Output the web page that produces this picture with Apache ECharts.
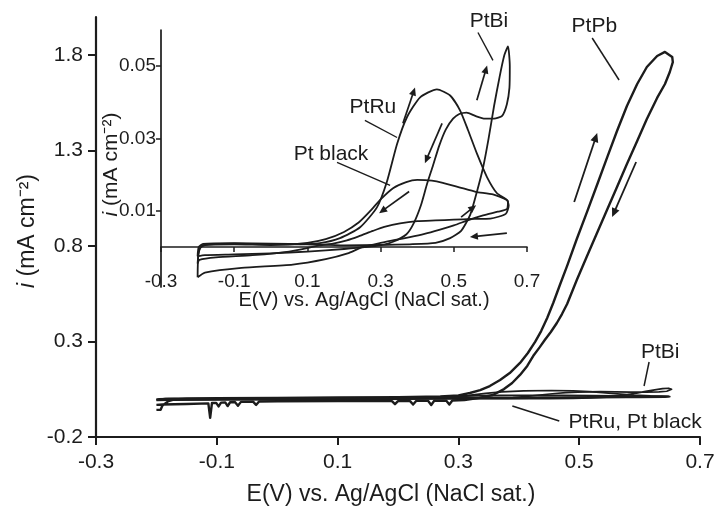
<!DOCTYPE html>
<html>
<head>
<meta charset="utf-8">
<script src="https://cdn.jsdelivr.net/npm/echarts@6/dist/echarts.min.js"></script>
<style>
  html, body { margin: 0; padding: 0; background: #fff; }
  #chart { width: 719px; height: 508px; }
</style>
</head>
<body>
<div id="chart"></div>
<script>
// Cyclic voltammograms: E (V vs. Ag/AgCl) against current density i (mA cm^-2)

// Axis ticks
const mainXTicks = [-0.3, -0.1, 0.1, 0.3, 0.5, 0.7];
const mainYTicks = [-0.2, 0.3, 0.8, 1.3, 1.8];
const insetXTicks = [-0.3, -0.1, 0.1, 0.3, 0.5, 0.7];
const insetYTicks = [0.01, 0.03, 0.05];

// PtPb: anodic sweep then cathodic sweep
const ptPbForward = [
  [-0.2, -0.058], [-0.193, -0.057], [-0.19, -0.035], [-0.18, -0.012], [-0.17, -0.003],
  [-0.15, 0.0], [-0.1, 0.003], [0.0, 0.005], [0.1, 0.007], [0.2, 0.009], [0.27, 0.012],
  [0.3, 0.018], [0.319, 0.0305], [0.336, 0.046], [0.352, 0.067], [0.369, 0.099],
  [0.385, 0.135], [0.402, 0.188], [0.415, 0.24], [0.427, 0.298], [0.437, 0.355],
  [0.447, 0.423], [0.457, 0.502], [0.468, 0.596], [0.48, 0.696], [0.496, 0.837],
  [0.513, 0.979], [0.5295, 1.12], [0.546, 1.262], [0.5626, 1.403], [0.579, 1.534],
  [0.596, 1.649], [0.612, 1.738], [0.629, 1.796], [0.642, 1.817], [0.654, 1.791]
];
const ptPbReverse = [
  [0.655, 1.764], [0.650, 1.712], [0.642, 1.649], [0.629, 1.576], [0.612, 1.466],
  [0.596, 1.351], [0.579, 1.23], [0.5626, 1.11], [0.546, 0.989], [0.5295, 0.869],
  [0.513, 0.748], [0.496, 0.622], [0.48, 0.497], [0.4715, 0.444], [0.463, 0.397],
  [0.453, 0.35], [0.443, 0.308], [0.435, 0.272], [0.425, 0.23], [0.414, 0.172],
  [0.402, 0.125], [0.389, 0.083], [0.3755, 0.051], [0.357, 0.02],
  [0.332, 0.004], [0.31, -0.006], [0.29, -0.009], [0.285, -0.03],
  [0.28, -0.01], [0.26, -0.01], [0.255, -0.032], [0.25, -0.011], [0.23, -0.011],
  [0.225, -0.03], [0.22, -0.012], [0.2, -0.012], [0.195, -0.028], [0.19, -0.012],
  [0.1, -0.012], [0.0, -0.013], [-0.03, -0.014], [-0.035, -0.032], [-0.04, -0.015],
  [-0.06, -0.016], [-0.065, -0.036], [-0.07, -0.017], [-0.078, -0.018], [-0.082, -0.038],
  [-0.086, -0.019], [-0.093, -0.02], [-0.097, -0.04], [-0.101, -0.021], [-0.108, -0.022],
  [-0.111, -0.1], [-0.114, -0.024], [-0.15, -0.027], [-0.19, -0.03], [-0.2, -0.032]
];

// PtBi
const ptBiForward = [
  [-0.2, -0.0025], [-0.197, 0.0], [-0.185, 0.0009], [-0.1, 0.0011], [0.0, 0.001],
  [0.1, 0.0008], [0.2, 0.0005], [0.3, 0.0006], [0.38, 0.0008], [0.45, 0.0012],
  [0.49, 0.0025], [0.52, 0.0045], [0.545, 0.009], [0.565, 0.016], [0.58, 0.022],
  [0.595, 0.03], [0.61, 0.039], [0.625, 0.047], [0.638, 0.053], [0.648, 0.0555]
];
const ptBiReverse = [
  [0.653, 0.05], [0.652, 0.044], [0.645, 0.0395], [0.632, 0.0363], [0.61, 0.0355],
  [0.585, 0.0355], [0.56, 0.0362], [0.535, 0.0372], [0.515, 0.0368], [0.498, 0.0355],
  [0.478, 0.0325], [0.46, 0.028], [0.443, 0.0225], [0.427, 0.0175], [0.41, 0.0115],
  [0.39, 0.0065], [0.37, 0.0035], [0.334, 0.0015], [0.3, 0.0005], [0.2, -0.0005],
  [0.1, -0.0012], [0.0, -0.0017], [-0.1, -0.002], [-0.18, -0.0022], [-0.2, -0.0025]
];

// PtRu
const ptRuForward = [
  [-0.2, -0.0083], [-0.198, -0.002], [-0.19, 0.0003], [-0.17, 0.0008], [-0.1, 0.001],
  [0.0, 0.0008], [0.08, 0.0008], [0.134, 0.0011], [0.189, 0.0025], [0.244, 0.0055],
  [0.29, 0.011], [0.317, 0.018], [0.345, 0.0285], [0.372, 0.0359], [0.408, 0.0414],
  [0.454, 0.0436], [0.49, 0.0419], [0.517, 0.0378], [0.539, 0.0323], [0.563, 0.0259],
  [0.591, 0.0193], [0.618, 0.0149], [0.648, 0.0127]
];
const ptRuReverse = [
  [0.645, 0.0105], [0.62, 0.0098], [0.58, 0.0088], [0.54, 0.0075], [0.5, 0.006],
  [0.46, 0.0048], [0.42, 0.0037], [0.38, 0.0028], [0.34, 0.002], [0.3, 0.0012],
  [0.25, 0.0], [0.21, -0.0017], [0.15, -0.0033], [0.06, -0.0048], [-0.08, -0.0057],
  [-0.18, -0.007], [-0.2, -0.0083]
];

// Pt black
const ptBlackForward = [
  [-0.2, -0.0045], [-0.195, -0.0005], [-0.18, 0.0006], [-0.1, 0.0008], [0.0, 0.0006],
  [0.1, 0.0012], [0.15, 0.0022], [0.2, 0.0042], [0.24, 0.0068], [0.27, 0.0098],
  [0.3, 0.0132], [0.334, 0.0163], [0.37, 0.018], [0.4, 0.0186], [0.44, 0.0184],
  [0.47, 0.0178], [0.52, 0.0164], [0.56, 0.0153], [0.607, 0.0146], [0.645, 0.013]
];
const ptBlackReverse = [
  [0.65, 0.0115], [0.642, 0.0092], [0.6, 0.0079], [0.55, 0.0078], [0.5, 0.0076],
  [0.45, 0.0074], [0.4, 0.0072], [0.353, 0.0066], [0.31, 0.0056], [0.279, 0.0045],
  [0.24, 0.003], [0.208, 0.0019], [0.17, 0.001], [0.134, 0.0005], [0.05, -0.0012],
  [-0.05, -0.0022], [-0.15, -0.0028], [-0.195, -0.0035], [-0.2, -0.0045]
];

// Annotation anchors, in data units of the grid they belong to
const mainNotes = [
  { text: 'PtPb', at: [0.525, 1.953] },
  { text: 'PtBi', at: [0.634, 0.245] },
  { text: 'PtRu, Pt black', at: [0.5926, -0.121] }
];
const mainLeaders = [
  [[0.5215, 1.890], [0.566, 1.670]],
  [[0.6157, 0.193], [0.6074, 0.067]],
  [[0.3893, -0.0376], [0.467, -0.116]]
];
const mainArrows = [
  [[0.4917, 1.031], [0.5298, 1.392]],
  [[0.5942, 1.2405], [0.5545, 0.952]]
];
const insetNotes = [
  { text: 'PtBi', at: [0.596, 0.0623] },
  { text: 'PtRu', at: [0.279, 0.0386] },
  { text: 'Pt black', at: [0.1645, 0.0257] }
];
const insetLeaders = [
  [[0.566, 0.0593], [0.607, 0.0516]],
  [[0.257, 0.035], [0.345, 0.0303]],
  [[0.181, 0.0234], [0.326, 0.0171]]
];
const insetArrows = [
  [[0.361, 0.0342], [0.394, 0.0441]],
  [[0.563, 0.0406], [0.591, 0.0502]],
  [[0.468, 0.0342], [0.421, 0.0232]],
  [[0.378, 0.0154], [0.296, 0.0094]],
  [[0.520, 0.0083], [0.561, 0.0116]],
  [[0.645, 0.0039], [0.544, 0.0028]]
];

const ink = '#1c1c1c';
const font = '"Liberation Sans", Arial, Helvetica, sans-serif';

function sweep(name, data, xi, width) {
  return {
    name: name, type: 'line', xAxisIndex: xi, yAxisIndex: xi,
    data: data, showSymbol: false, symbol: 'none', smooth: xi === 1 ? 0.2 : false,
    lineStyle: { color: ink, width: width, join: 'round' }, z: 3
  };
}

function valueAxis(opt) {
  return Object.assign({
    type: 'value', splitLine: { show: false }, silent: true, nameMoveOverlap: false
  }, opt);
}

const chart = echarts.init(document.getElementById('chart'), null, { renderer: 'canvas' });

const option = {
  animation: false,
  backgroundColor: '#ffffff',
  textStyle: { fontFamily: font, color: ink },
  grid: [
    { left: 96, top: 17, width: 604, height: 420, outerBoundsMode: 'none', containLabel: false },
    { left: 161, top: 30, width: 366, height: 257, outerBoundsMode: 'none', containLabel: false }
  ],
  xAxis: [
    valueAxis({
      gridIndex: 0, min: -0.3, max: 0.7,
      axisLine: { onZero: false, lineStyle: { color: ink, width: 2.2 } },
      axisTick: { customValues: mainXTicks, length: 8, lineStyle: { color: ink, width: 2 } },
      axisLabel: { customValues: mainXTicks, formatter: v => v.toFixed(1), fontSize: 21, color: ink, margin: 15, fontFamily: font },
      name: 'E(V) vs. Ag/AgCl (NaCl sat.)', nameLocation: 'middle', nameGap: 46,
      nameTextStyle: { fontSize: 23, color: ink, fontFamily: font, padding: [0, 14, 0, 0] }
    }),
    valueAxis({
      // the inset's E axis sits on i = 0, above the bottom of its grid
      gridIndex: 1, min: -0.3, max: 0.7, offset: -40,
      axisLine: { onZero: false, lineStyle: { color: ink, width: 1.7 } },
      axisTick: { customValues: insetXTicks, length: 5, lineStyle: { color: ink, width: 1.5 } },
      axisLabel: { customValues: insetXTicks, formatter: v => v.toFixed(1), fontSize: 19, color: ink, margin: 25, fontFamily: font },
      name: 'E(V) vs. Ag/AgCl (NaCl sat.)', nameLocation: 'middle', nameGap: 43,
      nameTextStyle: { fontSize: 20, color: ink, fontFamily: font, padding: [0, 0, 0, 40] }
    })
  ],
  yAxis: [
    valueAxis({
      gridIndex: 0, min: -0.2, max: 2.0,
      axisLine: { show: true, onZero: false, lineStyle: { color: ink, width: 2.2 } },
      axisTick: { show: true, customValues: mainYTicks, length: 8, lineStyle: { color: ink, width: 2 } },
      axisLabel: { customValues: mainYTicks, formatter: v => v.toFixed(1), fontSize: 21, color: ink, margin: 13, fontFamily: font },
      name: '{it|i} (mA cm⁻²)', nameLocation: 'middle', nameGap: 57,
      nameTextStyle: { fontSize: 23, color: ink, fontFamily: font, padding: [0, 8, 0, 0],
        rich: { it: { fontStyle: 'italic', fontSize: 23, fontFamily: font, color: ink } } }
    }),
    valueAxis({
      gridIndex: 1, min: -0.011, max: 0.06,
      axisLine: { show: true, onZero: false, lineStyle: { color: ink, width: 1.7 } },
      axisTick: { show: true, customValues: insetYTicks, length: 5, lineStyle: { color: ink, width: 1.5 } },
      axisLabel: { customValues: insetYTicks, formatter: v => v.toFixed(2), fontSize: 19, color: ink, margin: 5, fontFamily: font },
      name: '{it|i} (mA cm⁻²)', nameLocation: 'middle', nameGap: 39,
      nameTextStyle: { fontSize: 21, color: ink, fontFamily: font, padding: [0, 12, 0, 0],
        rich: { it: { fontStyle: 'italic', fontSize: 21, fontFamily: font, color: ink } } }
    })
  ],
  series: [
    sweep('PtPb', ptPbForward.concat(ptPbReverse), 0, 2.4),
    sweep('PtBi', ptBiForward.concat(ptBiReverse), 0, 1.7),
    sweep('PtRu', ptRuForward.concat(ptRuReverse), 0, 1.7),
    sweep('Pt black', ptBlackForward.concat(ptBlackReverse), 0, 1.7),
    sweep('PtBi', ptBiForward.concat(ptBiReverse), 1, 1.8),
    sweep('PtRu', ptRuForward.concat(ptRuReverse), 1, 1.8),
    sweep('Pt black', ptBlackForward.concat(ptBlackReverse), 1, 1.8)
  ]
};

chart.setOption(option);

// Labels, leader lines and sweep-direction arrows placed through the axes
function px(grid, p) { return chart.convertToPixel({ gridIndex: grid }, p); }

function noteEl(grid, n, size) {
  const p = px(grid, n.at);
  return { type: 'text', x: p[0], y: p[1], z: 10,
    style: { text: n.text, fontSize: size, fontFamily: font, fill: ink, align: 'center', verticalAlign: 'middle' } };
}
function leaderEl(grid, seg, w) {
  const a = px(grid, seg[0]), b = px(grid, seg[1]);
  return { type: 'line', z: 10, shape: { x1: a[0], y1: a[1], x2: b[0], y2: b[1] }, style: { stroke: ink, lineWidth: w } };
}
function arrowEls(grid, seg, w, head) {
  const a = px(grid, seg[0]), b = px(grid, seg[1]);
  const dx = b[0] - a[0], dy = b[1] - a[1], len = Math.hypot(dx, dy);
  const ux = dx / len, uy = dy / len;
  const hl = head, hw = head * 0.45;
  const base = [b[0] - ux * hl, b[1] - uy * hl];
  return [
    { type: 'line', z: 10, shape: { x1: a[0], y1: a[1], x2: base[0] + ux * 2, y2: base[1] + uy * 2 }, style: { stroke: ink, lineWidth: w } },
    { type: 'polygon', z: 10, shape: { points: [b, [base[0] - uy * hw, base[1] + ux * hw], [base[0] + uy * hw, base[1] - ux * hw]] },
      style: { fill: ink } }
  ];
}

let elements = [];
mainNotes.forEach(n => elements.push(noteEl(0, n, 21)));
mainLeaders.forEach(s => elements.push(leaderEl(0, s, 1.5)));
mainArrows.forEach(s => { elements = elements.concat(arrowEls(0, s, 1.8, 9)); });
insetNotes.forEach(n => elements.push(noteEl(1, n, 21)));
insetLeaders.forEach(s => elements.push(leaderEl(1, s, 1.4)));
insetArrows.forEach(s => { elements = elements.concat(arrowEls(1, s, 1.7, 8)); });

chart.setOption({ graphic: elements });
</script>
</body>
</html>
